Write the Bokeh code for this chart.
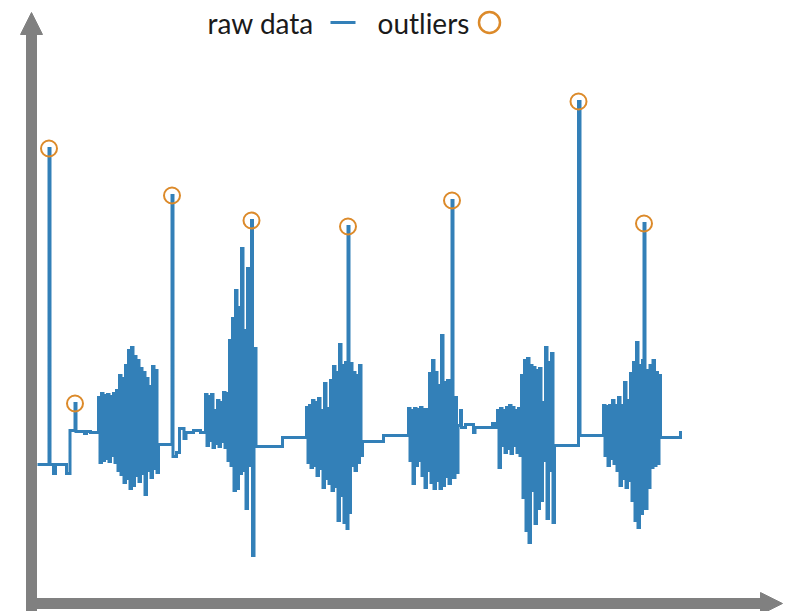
from bokeh.plotting import figure
from bokeh.models import Range1d, Arrow, NormalHead, Label, ColumnDataSource
from bokeh.embed import file_html
from bokeh.resources import INLINE

# ---------------- data (time, amplitude) ----------------
pre_t = [37, 48.5, 49.5, 53, 55, 66, 69.5, 74.5, 75.5, 84, 86, 90]
pre_v = [-0.1, 31.5, -0.1, -1.0, -0.1, -1.0, 3.3, 6.0, 3.2, 3.0, 3.2, 3.1]

burst1_t = [98, 99.5, 101, 102.5, 104, 105.5, 107, 108.5, 110, 111.5, 113, 114.5,
            116, 117.5, 119, 120.5, 122, 123.5, 125, 126.5, 128, 129.5, 131, 132.5,
            134, 135.5, 137, 138.5, 140, 141.5, 143, 144.5, 146, 147.5, 149, 150.5,
            152, 153.5, 155, 156.5]
burst1_v = [6.6, 0.1, 7.0, 0.3, 6.8, 0.5, 6.9, 0.2, 6.7, 0.8, 7.0, 0.1,
            7.3, -0.7, 8.8, -1.1, 8.5, -1.9, 9.8, -1.5, 11.3, -2.5, 11.6, -2.2,
            10.7, -1.2, 10.3, -1.8, 9.5, -1.0, 9.1, -3.1, 8.5, -0.7, 7.7, -1.4,
            9.7, -0.5, 9.3, -0.9]

mid1_t = [158, 171.5, 172.5, 176, 179, 183.5, 185.5, 193, 200]
mid1_v = [1.9, 26.8, 0.7, 1.1, 3.5, 2.5, 3.1, 3.3, 3.1]

burst2_t = [205, 206.5, 208, 209.5, 211, 212.5, 214, 215.5, 217, 218.5, 220, 221.5,
            223, 224.5, 226, 227.5, 229, 230.5, 232, 233.5, 235, 236.5, 238, 239.5,
            241, 242.5, 244, 245.5, 247, 248.5, 250, 251, 252, 253.5]
burst2_v = [6.9, 1.8, 6.7, 2.3, 6.9, 1.6, 5.3, 2.0, 6.3, 1.7, 6.1, 2.2,
            7.1, 1.6, 7.0, 0.3, 12.3, -0.2, 14.5, -2.7, 17.3, -2.5, 15.6, -1.0,
            21.5, -0.7, 13.3, -4.5, 19.5, -0.2, 14.3, 24.3, -9.2, 11.5]

mid2_t = [255.5, 282]
mid2_v = [1.7, 2.6]

burst3_t = [306, 307.5, 309, 310.5, 312, 313.5, 315, 316.5, 318, 319.5, 321, 322.5,
            324, 325.5, 327, 328.5, 330, 331.5, 333, 334.5, 336, 337.5, 339, 340.5,
            342, 343.5, 345, 346.5, 347.5, 348.5, 350, 351.5, 353, 354.5, 356, 357.5,
            359, 360.5]
burst3_v = [5.6, 0.1, 5.8, -0.4, 6.3, -0.2, 6.1, -1.2, 6.5, -0.5, 5.3, -2.4,
            8.0, -1.5, 5.5, -2.0, 8.3, -2.7, 9.7, -2.3, 9.1, -5.7, 11.9, -3.2,
            9.8, -5.9, 10.1, -6.5, 23.7, -4.9, 10.0, -0.2, 9.1, -0.7, 8.8, 0.1,
            9.8, 0.8]

mid3_t = [362, 383]
mid3_v = [2.2, 2.8]

burst4_t = [408, 409.5, 411, 412.5, 414, 415.5, 417, 418.5, 420, 421.5, 423, 424.5,
            426, 427.5, 429, 430.5, 432, 433.5, 435, 436.5, 438, 439.5, 441, 442.5,
            444, 445.5, 447, 448.5, 450, 451.5, 452.5, 454.5, 456]
burst4_v = [5.5, 0.3, 5.3, -2.0, 5.5, -0.2, 5.4, 0.3, 5.6, -1.2, 5.4, -2.4,
            5.4, -0.7, 9.0, -1.9, 10.3, -2.5, 9.1, -1.7, 7.8, -2.5, 12.8, -2.2,
            8.1, -1.3, 8.3, -2.0, 6.8, 26.3, -1.4, 6.6, -0.9]

mid4_t = [457.5, 460, 461, 465, 473, 474.5, 492, 495]
mid4_v = [3.8, 5.3, 3.6, 3.9, 3.1, 3.6, 4.0, 3.6]

burst5_t = [497, 498.5, 500, 501.5, 503, 504.5, 506, 507.5, 509, 510.5, 512, 513.5,
            515, 516.5, 518, 519.5, 521, 522.5, 524, 525.5, 527, 528.5, 530, 531.5,
            533, 534.5, 536, 537.5, 539, 540.5, 542, 543.5, 545, 546.5, 548, 549.5,
            551, 552.5]
burst5_v = [5.3, -0.4, 5.5, 1.8, 5.3, 1.1, 5.6, 1.5, 5.8, 1.0, 5.6, 1.8,
            5.3, 1.1, 5.5, 0.8, 8.8, -3.4, 10.3, -6.7, 10.5, -7.9, 9.8, -2.7,
            9.6, -6.0, 9.3, -4.5, 9.5, -3.7, 6.1, 0.3, 11.6, -5.5, 10.1, -0.7,
            11.0, -5.9]

mid5_t = [554, 578, 579.5]
mid5_v = [1.8, 36.2, 2.8]

burst6_t = [603, 604.5, 606, 607.5, 609, 610.5, 612, 613.5, 615, 616.5, 618, 619.5,
            621, 622.5, 624, 625.5, 627, 628.5, 630, 631.5, 633, 634.5, 636, 637.5,
            639, 640.5, 642, 643.5, 644.5, 646.5, 648, 649.5, 651, 652.5, 654, 655.5,
            657, 658.5]
burst6_v = [5.8, 0.8, 5.7, -0.2, 5.8, 0.5, 6.3, 0.0, 5.8, -0.7, 6.6, -2.2,
            5.8, -1.5, 8.1, -2.4, 6.3, -1.7, 9.0, -3.7, 10.1, -5.7, 12.1, -6.4,
            9.8, -5.0, 10.3, 24.0, -4.5, 9.3, -2.4, 9.8, -0.4, 10.3, -0.2, 9.1,
            0.0, 8.8]

end_t = [660, 680, 681.5]
end_v = [2.6, 3.1, 3.1]

outlier_t = [48.5, 74.5, 171.5, 251, 347.5, 451.5, 578, 643.5]
outlier_v = [31.5, 6.0, 26.8, 24.3, 23.7, 26.3, 36.2, 24.0]

legend_labels = ["raw data", "outliers"]

raw_t = (pre_t + burst1_t + mid1_t + burst2_t + mid2_t + burst3_t + mid3_t +
         burst4_t + mid4_t + burst5_t + mid5_t + burst6_t + end_t)
raw_v = (pre_v + burst1_v + mid1_v + burst2_v + mid2_v + burst3_v + mid3_v +
         burst4_v + mid4_v + burst5_v + mid5_v + burst6_v + end_v)

# ---------------- styling ----------------
BLUE = "#3380b8"
ORANGE = "#dc8a2a"
GRAY = "#808080"
FONT = "Lato"
LEGEND_Y = 44.1

p = figure(width=785, height=611,
           x_range=Range1d(0, 785), y_range=Range1d(-14.8, 46.3),
           x_axis_type=None, y_axis_type=None,
           output_backend="svg", toolbar_location=None, min_border=0)
p.grid.visible = False
p.outline_line_color = None
p.background_fill_color = "white"
p.border_fill_color = "white"

raw_src = ColumnDataSource(dict(t=raw_t, v=raw_v))
p.step("t", "v", source=raw_src, mode="after", line_width=3, line_color=BLUE,
       line_join="miter")

out_src = ColumnDataSource(dict(t=outlier_t, v=outlier_v))
p.scatter("t", "v", source=out_src, marker="circle", size=16, fill_color=None,
          line_color=ORANGE, line_width=2)

# axes drawn as thick arrows
p.add_layout(Arrow(end=NormalHead(size=22, fill_color=GRAY, line_color=GRAY, line_width=1),
                   x_start=31, y_start=-14.8, x_end=31, y_end=45.1,
                   line_color=GRAY, line_width=11))
p.add_layout(Arrow(end=NormalHead(size=22, fill_color=GRAY, line_color=GRAY, line_width=1),
                   x_start=25.5, y_start=-14.0, x_end=782, y_end=-14.0,
                   line_color=GRAY, line_width=11))

# legend (label first, then sample)
p.add_layout(Label(x=207, y=LEGEND_Y, text=legend_labels[0], text_font=FONT,
                   text_font_size="28px", text_color="#1a1a1a",
                   text_baseline="middle"))
p.line([330, 355], [LEGEND_Y, LEGEND_Y], line_width=3, line_color=BLUE)
p.add_layout(Label(x=377, y=LEGEND_Y, text=legend_labels[1], text_font=FONT,
                   text_font_size="28px", text_color="#1a1a1a",
                   text_baseline="middle"))
p.scatter([489], [LEGEND_Y], marker="circle", size=21, fill_color=None,
          line_color=ORANGE, line_width=2.5)

open("out.html", "w").write(file_html(p, INLINE))
